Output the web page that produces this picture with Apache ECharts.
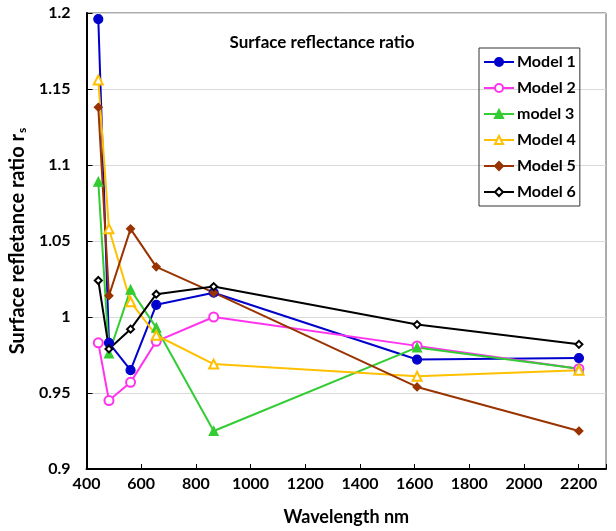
<!DOCTYPE html>
<html>
<head>
<meta charset="utf-8">
<script src="https://cdn.jsdelivr.net/npm/echarts@6/dist/echarts.min.js"></script>
<style>
  html, body { margin: 0; padding: 0; background: #fff; }
  #chart { width: 616px; height: 531px; }
</style>
</head>
<body>
<div id="chart"></div>
<script>
// Landsat-8 OLI band centres (nm)
const wavelengths = [443, 482, 561, 655, 865, 1609, 2201];
const model1 = [1.196, 0.983, 0.965, 1.008, 1.016, 0.972, 0.973];
const model2 = [0.983, 0.945, 0.957, 0.984, 1.000, 0.981, 0.966];
const model3 = [1.089, 0.976, 1.018, 0.993, 0.925, 0.980, 0.966];
const model4 = [1.156, 1.058, 1.010, 0.988, 0.969, 0.961, 0.965];
const model5 = [1.138, 1.014, 1.058, 1.033, 1.016, 0.954, 0.925];
const model6 = [1.024, 0.979, 0.992, 1.015, 1.020, 0.995, 0.982];

const FONT = 'Lato, "Open Sans", sans-serif';

const seriesDefs = [
  { name: 'Model 1', data: model1, color: '#0000cc', symbol: 'circle', size: 9 },
  { name: 'Model 2', data: model2, color: '#ff33ee', symbol: 'emptyCircle', size: 9 },
  { name: 'model 3', data: model3, color: '#33cc33', symbol: 'triangle', size: 9 },
  { name: 'Model 4', data: model4, color: '#ffc000', symbol: 'emptyTriangle', size: 9 },
  { name: 'Model 5', data: model5, color: '#993300', symbol: 'diamond', size: 8 },
  { name: 'Model 6', data: model6, color: '#000000', symbol: 'emptyDiamond', size: 7 },
];

const chart = echarts.init(document.getElementById('chart'), null, { renderer: 'canvas' });

chart.setOption({
  animation: false,
  backgroundColor: '#fff',
  textStyle: { fontFamily: FONT },
  grid: {
    left: 86, right: 10, top: 13, bottom: 62,
    show: true, borderColor: '#595959', borderWidth: 1
  },
  graphic: [{
    type: 'text', x: 322, y: 43,
    style: {
      text: 'Surface reflectance ratio', fontFamily: FONT, fontWeight: 'bold',
      fontSize: 17, fill: '#000', textAlign: 'center', textVerticalAlign: 'middle'
    }
  }],
  legend: {
    orient: 'vertical', left: 479, top: 48,
    itemWidth: 30, itemHeight: 10, itemGap: 10,
    padding: [6, 4, 6, 4],
    borderColor: '#333', borderWidth: 1,
    textStyle: { fontFamily: FONT, fontWeight: 'bold', fontSize: 16, color: '#000', padding: [0, 0, 0, -2] },
    data: seriesDefs.map(s => s.name)
  },
  xAxis: {
    type: 'value', min: 400, max: 2300, interval: 200,
    name: 'Wavelength nm', nameLocation: 'middle', nameGap: 39,
    nameTextStyle: { fontFamily: FONT, fontWeight: 'bold', fontSize: 18, color: '#000' },
    axisLine: { show: true, lineStyle: { color: '#000', width: 2 } },
    axisTick: { show: true, inside: true, length: 5, lineStyle: { color: '#000' } },
    axisLabel: {
      fontFamily: FONT, fontWeight: 'bold', fontSize: 16, color: '#000', margin: 7,
      formatter: v => (v > 2200 ? '' : String(v))
    },
    splitLine: { show: false }
  },
  yAxis: {
    type: 'value', min: 0.9, max: 1.2, interval: 0.05,
    name: '{m|Surface refletance ratio r}{s|s}', nameLocation: 'middle', nameGap: 54,
    nameRotate: 90,
    nameTextStyle: {
      rich: {
        m: { fontFamily: FONT, fontWeight: 'bold', fontSize: 20, color: '#000' },
        s: { fontFamily: FONT, fontWeight: 'bold', fontSize: 12, color: '#000', verticalAlign: 'bottom', padding: [8, 0, 0, 1] }
      }
    },
    axisLine: { show: true, lineStyle: { color: '#000', width: 2 } },
    axisTick: { show: true, inside: true, length: 6, lineStyle: { color: '#000' } },
    axisLabel: {
      fontFamily: FONT, fontWeight: 'bold', fontSize: 16, color: '#000', margin: 16,
      formatter: v => String(parseFloat(v.toFixed(2)))
    },
    splitLine: { show: true, lineStyle: { color: '#d9d9d9', width: 1 } }
  },
  series: seriesDefs.map(s => ({
    name: s.name,
    type: 'line',
    data: wavelengths.map((w, i) => [w, s.data[i]]),
    symbol: s.symbol,
    symbolSize: s.size,
    showAllSymbol: true,
    lineStyle: { color: s.color, width: 2 },
    itemStyle: { color: s.color, borderColor: s.color, borderWidth: 1.2 },
    emphasis: { disabled: true }
  }))
});
</script>
</body>
</html>
